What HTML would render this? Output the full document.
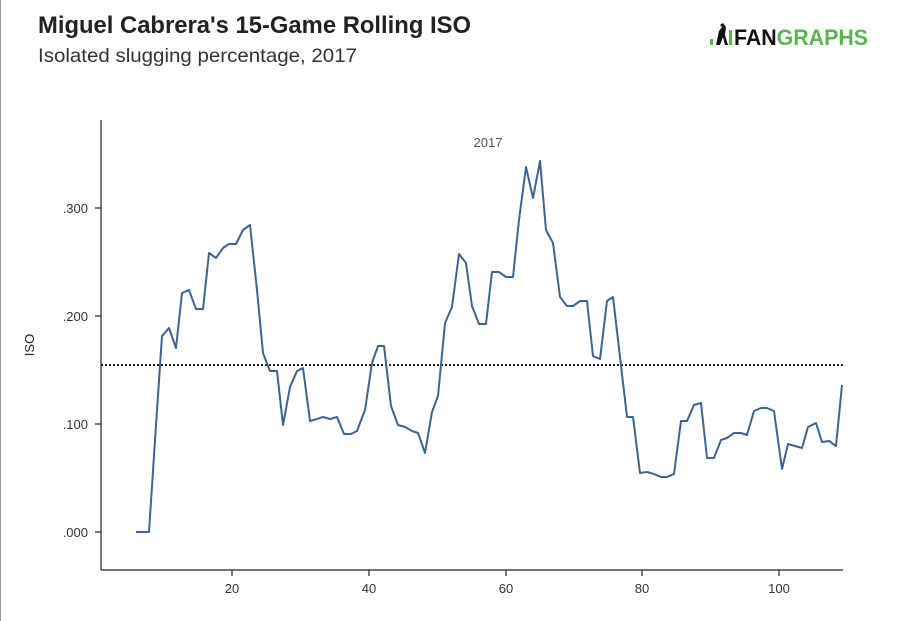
<!DOCTYPE html>
<html><head><meta charset="utf-8"><style>
body{margin:0;background:#fff;}
svg{display:block;font-family:"Liberation Sans",sans-serif;}
</style></head><body>
<svg width="900" height="621" viewBox="0 0 900 621">
<rect x="0" y="0" width="900" height="621" fill="#fff"/>
<line x1="0.5" y1="0" x2="0.5" y2="621" stroke="#999"/>
<text x="38" y="33" font-size="24" font-weight="bold" fill="#222" textLength="433" lengthAdjust="spacingAndGlyphs">Miguel Cabrera's 15-Game Rolling ISO</text>
<text x="38" y="62" font-size="19" fill="#333" textLength="319" lengthAdjust="spacingAndGlyphs">Isolated slugging percentage, 2017</text>
<g transform="translate(710,45)">
<rect x="0" y="-6" width="3" height="6" fill="#5bb450"/>
<path d="M6,0 L9,-14 L12,-18 L10,-20 L13,-22 L16,-18 L15,-10 L18,0 L15,0 L13,-8 L10,0 Z" fill="#111"/>
<rect x="19" y="-15" width="3" height="15" fill="#5bb450"/>
<text x="24" y="0" font-size="22" font-weight="bold" fill="#111" textLength="134" lengthAdjust="spacingAndGlyphs">FAN<tspan fill="#5bb450">GRAPHS</tspan></text>
</g>
<line x1="101" y1="120" x2="101" y2="570" stroke="#222" stroke-width="1.2"/>
<line x1="101" y1="570" x2="843" y2="570" stroke="#222" stroke-width="1.2"/>
<g stroke="#222" stroke-width="1.2">
<line x1="95" y1="532" x2="101" y2="532"/><line x1="95" y1="424" x2="101" y2="424"/>
<line x1="95" y1="316" x2="101" y2="316"/><line x1="95" y1="208" x2="101" y2="208"/>
<line x1="232" y1="570" x2="232" y2="576"/><line x1="369" y1="570" x2="369" y2="576"/>
<line x1="506" y1="570" x2="506" y2="576"/><line x1="642" y1="570" x2="642" y2="576"/>
<line x1="779" y1="570" x2="779" y2="576"/>
</g>
<g font-size="13" fill="#333" text-anchor="end">
<text x="88" y="537">.000</text><text x="88" y="429">.100</text>
<text x="88" y="321">.200</text><text x="88" y="213">.300</text>
</g>
<g font-size="13" fill="#333" text-anchor="middle">
<text x="232" y="593">20</text><text x="369" y="593">40</text><text x="506" y="593">60</text>
<text x="642" y="593">80</text><text x="779" y="593">100</text>
</g>
<text transform="translate(34,345) rotate(-90)" font-size="13" fill="#222" text-anchor="middle">ISO</text>
<text x="488" y="147" font-size="13" fill="#555" text-anchor="middle">2017</text>
<line x1="101" y1="365" x2="843" y2="365" stroke="#222" stroke-width="2" stroke-dasharray="2,2"/>
<polyline fill="none" stroke="#3d6491" stroke-width="2" stroke-linejoin="round" points="136,532 149,532 156,425 162,336 169,328 176,348 182,293 189,290 196,309 203,309 209,253 216,258 223,248 229,244 236,244 243,230 250,225 257,290 263,353 270,371 277,371 283,425 290,387 297,371 303,368 310,421 317,419 323,417 330,419 337,417 344,434 351,434 357,431 365,410 372,363 378,346 384,346 391,406 398,425 405,427 412,431 418,433 425,453 432,412 438,396 445,323 452,307 459,254 466,263 472,306 479,324 486,324 492,272 499,272 506,277 513,277 519,220 526,167 533,198 540,161 546,230 553,243 560,297 567,306 573,306 580,301 587,301 593,356 600,359 607,301 613,297 620,357 627,417 633,417 640,473 647,472 654,474 661,477 667,477 674,474 681,421 687,421 694,405 701,403 707,458 714,458 721,440 727,438 734,433 741,433 747,435 754,411 761,408 767,408 774,411 782,469 788,444 795,446 802,448 808,427 816,423 822,442 829,441 836,446 842,385"/>
</svg>
</body></html>
